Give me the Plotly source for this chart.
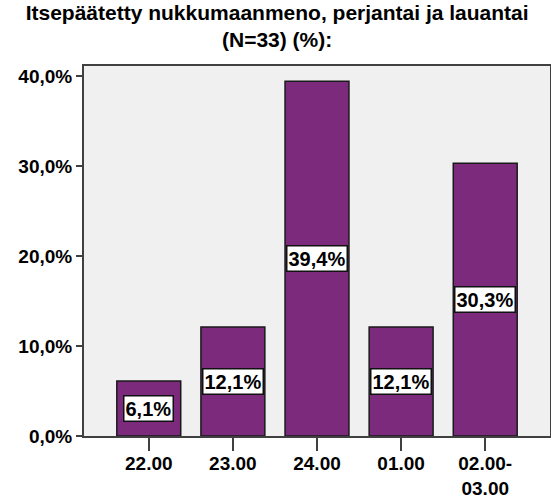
"""
Bar chart: self-chosen bedtime, Friday and Saturday (SPSS style).
"""
import plotly.graph_objects as go

categories = ["22.00", "23.00", "24.00", "01.00", "02.00-<br>03.00"]
percents = [6.1, 12.1, 39.4, 12.1, 30.3]
y_ticks = [0, 10, 20, 30, 40]
y_labels = ["0,0%", "10,0%", "20,0%", "30,0%", "40,0%"]

BAR = "#7b2a7c"
EDGE = "#404040"
FONT = "Liberation Sans, Arial, sans-serif"

fig = go.Figure()
fig.add_trace(go.Bar(
    x=list(range(len(categories))),
    y=percents,
    width=0.76,
    marker={"color": BAR, "line": {"color": "#1a1a1a", "width": 1.5}},
    hoverinfo="skip",
))

# value labels in white boxes, centred in each bar
for i, val in enumerate(percents):
    fig.add_annotation(
        x=i, y=val / 2, xref="x", yref="y",
        text="<b>" + f"{val:.1f}%".replace(".", ",") + "</b>",
        showarrow=False, bgcolor="white", bordercolor="#111111",
        borderwidth=1.5, borderpad=1,
        font={"size": 20, "color": "black", "family": FONT},
    )

fig.update_layout(
    title={
        "text": "<b>Itsepäätetty nukkumaanmeno, perjantai ja lauantai<br>(N=33) (%):</b>",
        "x": 0.503, "xanchor": "center", "y": 0.96, "yanchor": "top",
        "font": {"size": 21, "color": "black", "family": FONT},
    },
    width=551, height=497,
    margin={"l": 84, "r": 1, "t": 66, "b": 61},
    paper_bgcolor="white",
    plot_bgcolor="#f0f0f0",
    font={"family": FONT, "color": "black"},
    showlegend=False,
)
fig.update_xaxes(
    range=[-0.77, 4.77], automargin=False,
    tickvals=list(range(len(categories))), ticktext=[f"<b>{c}</b>" for c in categories],
    showline=True, linecolor=EDGE, linewidth=2, mirror=True,
    ticks="outside", ticklen=13, tickcolor=EDGE, tickwidth=1.5,
    ticklabelstandoff=-4,
    tickfont={"size": 19, "family": FONT, "color": "black"},
    showgrid=False, zeroline=False,
)
fig.update_yaxes(
    range=[0, 41.1], automargin=False,
    tickvals=y_ticks, ticktext=[f"<b>{t}</b>" for t in y_labels],
    showline=True, linecolor=EDGE, linewidth=2, mirror=True,
    ticks="outside", ticklen=6, tickcolor=EDGE, tickwidth=1.5,
    tickfont={"size": 19, "family": FONT, "color": "black"},
    showgrid=False, zeroline=False,
)

fig.write_html(
    "out.html",
    config={"displayModeBar": False},
    post_script="document.body.style.margin='0';",
)
